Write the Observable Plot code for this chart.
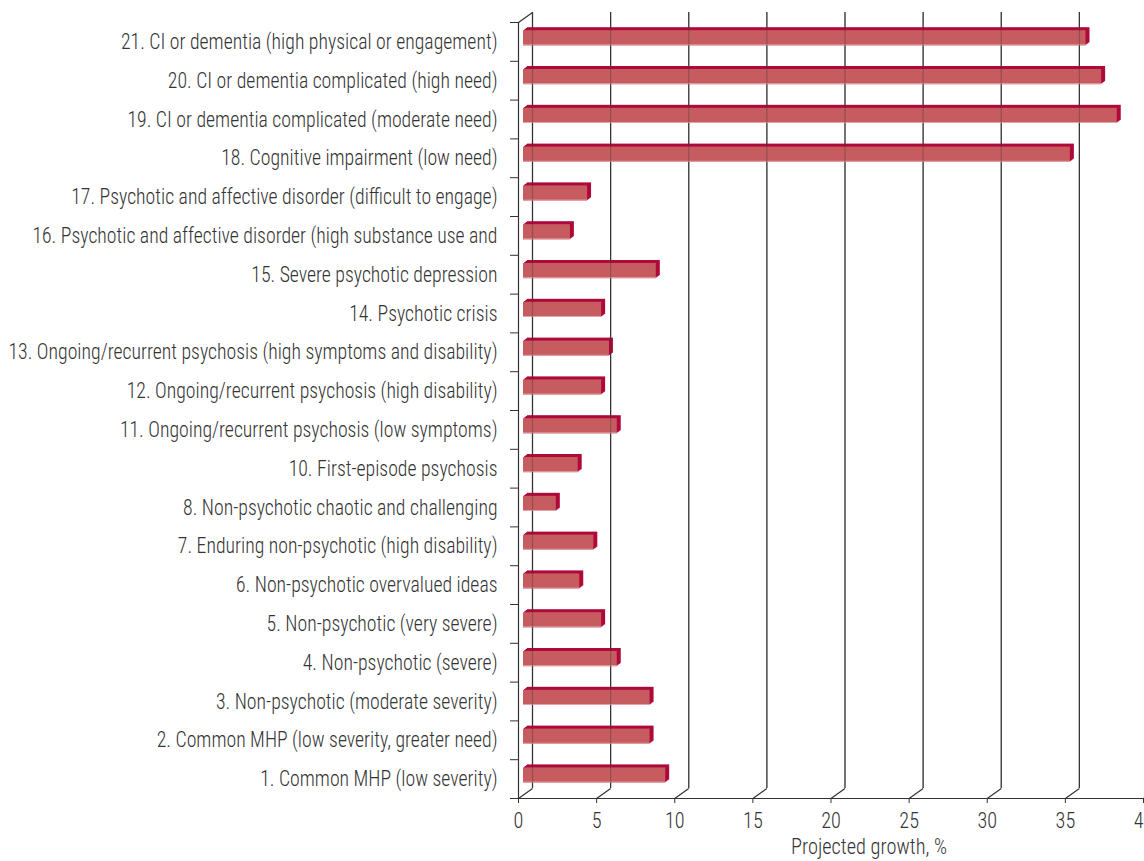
<!DOCTYPE html>
<html>
<head>
<meta charset="utf-8">
<script src="https://cdn.jsdelivr.net/npm/d3@7"></script>
<script src="https://cdn.jsdelivr.net/npm/@observablehq/plot@0.6"></script>
<style>
  html, body { margin: 0; padding: 0; background: #fff; }
  #chart { width: 1144px; height: 861px; }
</style>
</head>
<body>
<div id="chart"></div>
<script>
// Categories, bottom to top
const categories = [
  "1. Common MHP (low severity)",
  "2. Common MHP (low severity, greater need)",
  "3. Non-psychotic (moderate severity)",
  "4. Non-psychotic (severe)",
  "5. Non-psychotic (very severe)",
  "6. Non-psychotic overvalued ideas",
  "7. Enduring non-psychotic (high disability)",
  "8. Non-psychotic chaotic and challenging",
  "10. First-episode psychosis",
  "11. Ongoing/recurrent psychosis (low symptoms)",
  "12. Ongoing/recurrent psychosis (high disability)",
  "13. Ongoing/recurrent psychosis (high symptoms and disability)",
  "14. Psychotic crisis",
  "15. Severe psychotic depression",
  "16. Psychotic and affective disorder (high substance use and",
  "17. Psychotic and affective disorder (difficult to engage)",
  "18. Cognitive impairment (low need)",
  "19. CI or dementia complicated (moderate need)",
  "20. CI or dementia complicated (high need)",
  "21. CI or dementia (high physical or engagement)"
];
// Projected growth, %
const growth = [9.1, 8.1, 8.1, 6.0, 5.0, 3.6, 4.5, 2.1, 3.5, 6.0, 5.0, 5.5, 5.0, 8.5, 3.0, 4.1, 35, 38, 37, 36];
const xTicks = [0, 5, 10, 15, 20, 25, 30, 35, 40];
const xLabel = "Projected growth, %";

const data = categories.map((c, i) => ({label: c, value: growth[i], i}));

const W = 1144, H = 861, mL = 518, mR = 1, mT = 22, mB = 63;
const xMax = 40, nCat = categories.length;
const kx = (W - mL - mR) / xMax;       // px per unit on x
const ky = (H - mT - mB) / nCat;       // px per unit on y
const DX = 14, DY = 10;                // wall depth in px
const BX = 5, BY = 3.6;                // bar depth position in px
const barH = 15.2;
const inset = (ky - barH) / 2;

const font = "'Roboto Condensed', 'Liberation Sans Narrow', 'Arial Narrow', Roboto, sans-serif";
const FRONT = "#C65C5F", SIDE = "#AE0A3A", TXT = "#333333";

const extrude = [4, 3, 2, 1].map(k =>
  Plot.rect(data, {x1: 0, x2: "value", y1: "i", y2: d => d.i + 1,
    insetTop: inset, insetBottom: inset, fill: SIDE,
    dx: BX + k, dy: -BY - 0.75 * k})
);

const chart = Plot.plot({
  width: W, height: H,
  marginLeft: mL, marginRight: mR, marginTop: mT, marginBottom: mB,
  style: {fontFamily: font, fontWeight: 300, color: TXT, background: "#fff", overflow: "hidden"},
  x: {domain: [0, xMax], label: null},
  y: {domain: [0, nCat], label: null},
  marks: [
    // back wall gridlines
    Plot.ruleX(xTicks, {dx: DX, dy: -DY, stroke: "#333", strokeWidth: 1.2}),
    // floor diagonals
    Plot.link(xTicks, {x1: d => d, y1: 0, x2: d => d + DX / kx, y2: DY / ky, stroke: "#333", strokeWidth: 1.2}),
    Plot.link([0], {x1: 0, y1: nCat, x2: DX / kx, y2: nCat + DY / ky, stroke: "#333", strokeWidth: 1.2}),
    // bars (3D)
    ...extrude,
    Plot.rect(data, {x1: 0, x2: "value", y1: "i", y2: d => d.i + 1,
      insetTop: inset, insetBottom: inset, fill: FRONT, dx: BX, dy: -BY}),
    Plot.rect(data, {x1: 0, x2: "value", y1: "i", y2: d => d.i + 1,
      insetTop: ky - inset - 1, insetBottom: inset, fill: "#E3A3AA", dx: BX, dy: -BY}),
    // gridlines faintly over bars
    Plot.ruleX(xTicks, {dx: DX, dy: -DY, stroke: "#333", strokeOpacity: 0.35, strokeWidth: 1.2}),
    // front axes lines
    Plot.ruleX([0], {stroke: "#333", strokeWidth: 1.2}),
    Plot.ruleY([0], {stroke: "#333", strokeWidth: 1.2}),
    // y tick marks at category boundaries
    Plot.axisY({ticks: d3.range(0, nCat + 1), tickSize: 8, tickFormat: () => "", stroke: "#333"}),
    // category labels
    Plot.axisY({ticks: d3.range(0, nCat).map(i => i + 0.5), tickSize: 0, tickPadding: 21,
      tickFormat: d => categories[Math.floor(d)], fontSize: 22, fill: TXT}),
    // x axis
    Plot.axisX({ticks: xTicks, tickSize: 5, tickPadding: 9, fontSize: 22.5, fill: TXT, stroke: "#333"}),
    Plot.text([xLabel], {text: d => d, frameAnchor: "bottom", dx: 38, dy: 55, fontSize: 22.7, fill: TXT})
  ]
});
document.getElementById("chart").appendChild(chart);

// condense the type horizontally to match the narrow typeface of the original
(function condense() {
  const texts = Array.from(chart.querySelectorAll("text"));
  const ref = texts.find(t => t.textContent === categories[11]);
  if (!ref) return;
  const f = Math.min(1, 489 / ref.getComputedTextLength());
  for (const t of texts) {
    const s = t.textContent;
    if (!s) continue;
    const w = t.getComputedTextLength();
    if (w > 0) {
      t.setAttribute("textLength", (w * f).toFixed(2));
      t.setAttribute("lengthAdjust", "spacingAndGlyphs");
    }
  }
})();
</script>
</body>
</html>
